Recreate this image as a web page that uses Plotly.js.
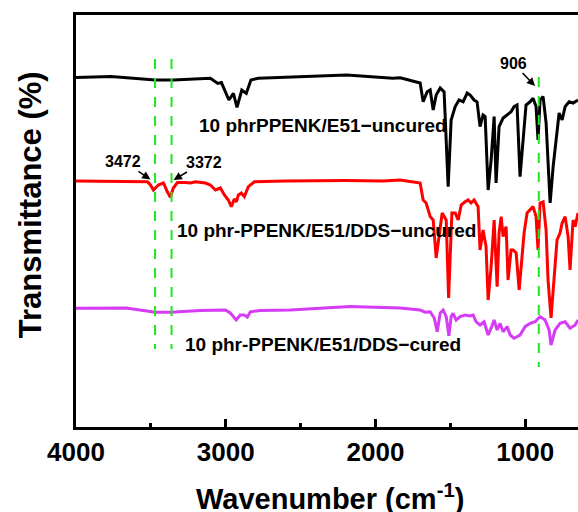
<!DOCTYPE html>
<html>
<head>
<meta charset="utf-8">
<script src="https://cdn.plot.ly/plotly-3.0.1.min.js"></script>
<style>html,body{margin:0;padding:0;background:#fff;overflow:hidden;}#chart{width:578px;height:512px;}</style>
</head>
<body>
<div id="chart"></div>
<script>
// Wavenumbers (cm-1) and transmittance (offset, arbitrary %)
const wnBlack = [4000,3766,3471,3350,3103,3053,3029,2979,2949,2925,2893,2863,2832,2783,2192,1885,1835,1735,1702,1682,1655,1635,1615,1595,1568,1542,1515,1495,1468,1442,1415,1388,1368,1342,1322,1302,1282,1268,1248,1228,1208,1195,1175,1148,1121,1095,1075,1055,1035,1015,995,968,948,928,915,901,881,861,834,814,794,774,754,734,707,681,648];
const tBlack  = [87.4,87.6,86.75,86.75,87.2,85.9,86.1,81.75,83.4,79.9,84.25,83.4,86.75,87.2,88,87.2,87.3,86.3,86,81.3,83.8,84.25,79.25,83,84.75,83.75,60.1,76.75,80.1,81.75,81.3,83.5,83,81.75,81.3,75.1,78,77.6,59.25,66.75,77.6,61,75.1,77.25,78,78.8,80.1,80.5,62.6,71.75,80.5,81.3,82.2,80.1,71.75,81.75,82.6,76,56,65.1,72.6,78.5,76.75,80.1,81.3,81,81.75];

const wnRed = [4000,3523,3503,3483,3450,3416,3390,3370,3350,3323,3270,3236,3203,3136,3103,3069,3036,3009,2983,2963,2943,2929,2916,2896,2876,2849,2809,2600,2200,1950,1835,1702,1682,1662,1635,1615,1595,1575,1555,1528,1512,1490,1468,1448,1428,1402,1382,1362,1342,1315,1302,1282,1262,1248,1228,1208,1188,1175,1161,1148,1128,1115,1095,1081,1061,1041,1021,1008,988,968,948,928,915,901,881,861,848,828,808,788,768,754,734,714,701,681,667,648];
const tRed  = [61.5,61.3,60.5,59.25,60.5,61,58.8,57.4,59.75,61.1,61.1,61,61.3,61,60.5,59.25,59.75,58,56.75,55.1,57,56.3,58,58.5,57.6,60.1,61.3,61.5,61.6,61.5,61.75,61,56.75,56,52.6,51.75,42.25,47.6,53.5,51.75,32.25,53.5,53.5,51.75,55.5,56.3,56.75,56,56.75,55.1,44.25,49.25,45.1,31.75,40.1,51.75,35.1,48.5,52.6,47.6,50.1,36.75,44.25,44.25,43.5,34.25,41.75,48.5,53.5,54.25,55.1,52.6,44.25,56,56.3,49.25,36.75,27.25,37.6,46.75,48.5,51,52.6,47.6,39.25,51.75,50.1,53.5];

const wnPurple = [4000,3665,3471,3365,3170,3003,2970,2930,2903,2876,2856,2836,2770,2570,2170,1835,1702,1668,1635,1608,1588,1568,1548,1528,1510,1495,1482,1462,1435,1402,1368,1348,1328,1302,1275,1248,1228,1208,1188,1168,1148,1121,1101,1075,1035,1001,968,935,901,868,841,828,801,768,734,701,667,648];
const tPurple  = [29.7,29.75,28.7,28.7,29.1,29.25,28.5,26.75,28,28,27.5,28.8,29.1,29.25,30.1,29.75,29.25,28.7,28.8,27.25,23.8,28.5,29.25,27.6,22.8,27.6,28.4,26.75,27.6,28,27.75,28,26.3,25.5,26.3,23,24.7,26.75,24.25,25.9,23.8,25.1,23,22.2,23,25.1,25.9,26.3,27.6,26.75,24.25,20.5,24.25,25.9,26.3,24.7,25.5,26.75];

const seriesNames = ["10 phrPPENK/E51\u2212uncured","10 phr-PPENK/E51/DDS\u2212uncured","10 phr-PPENK/E51/DDS\u2212cured"];
const seriesColors = ["#000000","#ff0000","#d63cf5"];

// Marked bands (cm-1)
const bandWn = [3472, 3362, 910];
const bandLabels = ["3472","3372","906"];
const bandTop = [92, 92, 87.5];
const bandBottom = [19.5, 19.5, 15];

const xTicks = [4000,3000,2000,1000];

const FONT = "Arial, 'Liberation Sans', sans-serif";

const traces = [
  {x: wnPurple, y: tPurple, mode:'lines', line:{color:seriesColors[2], width:3}, name:seriesNames[2], hoverinfo:'skip'},
  {x: wnRed, y: tRed, mode:'lines', line:{color:seriesColors[1], width:3}, name:seriesNames[1], hoverinfo:'skip'},
  {x: wnBlack, y: tBlack, mode:'lines', line:{color:seriesColors[0], width:3}, name:seriesNames[0], hoverinfo:'skip'}
];

const shapes = bandWn.map((w,i)=>({type:'line', xref:'x', yref:'y', x0:w, x1:w, y0:bandTop[i], y1:bandBottom[i],
  line:{color:'#1fe81f', width:2, dash:'10px,9px'}}));

const bold = (s)=>({family:FONT, size:s, color:'#000', weight:'bold'});

const annotations = [
  {x:3189, y:75.5, xref:'x', yref:'y', text:seriesNames[0], showarrow:false, xanchor:'left', yanchor:'middle', font:bold(19)},
  {x:3336, y:49.25, xref:'x', yref:'y', text:seriesNames[1], showarrow:false, xanchor:'left', yanchor:'middle', font:bold(19)},
  {x:3283, y:20.75, xref:'x', yref:'y', text:seriesNames[2], showarrow:false, xanchor:'left', yanchor:'middle', font:bold(19)},
  {x:3503, y:61.9, xref:'x', yref:'y', text:bandLabels[0], showarrow:true, ax:-27, ay:-18, arrowhead:2, arrowsize:1.1, arrowwidth:1.5, arrowcolor:'#000', standoff:0, font:bold(16)},
  {x:3348, y:61.75, xref:'x', yref:'y', text:bandLabels[1], showarrow:true, ax:30, ay:-18, arrowhead:2, arrowsize:1.1, arrowwidth:1.5, arrowcolor:'#000', standoff:0, font:bold(16)},
  {x:935, y:85.25, xref:'x', yref:'y', text:bandLabels[2], showarrow:true, ax:-22, ay:-23, arrowhead:2, arrowsize:1.1, arrowwidth:1.5, arrowcolor:'#000', standoff:0, font:bold(16)},
  {x:0.5, y:-0.17, xref:'paper', yref:'paper', text:'Wavenumber (cm<sup>-1</sup>)', showarrow:false, xanchor:'center', yanchor:'middle', font:bold(29), xshift:3},
  {x:-0.09, y:0.54, xref:'paper', yref:'paper', text:'Transmittance (%)', showarrow:false, textangle:-90, xanchor:'center', yanchor:'middle', font:bold(31)}
];

const layout = {
  width:578, height:512,
  margin:{l:76, r:0, t:15, b:85, pad:0},
  paper_bgcolor:'#fff', plot_bgcolor:'#fff',
  showlegend:false,
  xaxis:{range:[4000,648], showline:true, linecolor:'#000', linewidth:3, mirror:true,
    tickmode:'array', tickvals:xTicks, ticktext:xTicks.map(String),
    ticks:'inside', ticklen:8, tickwidth:3, tickcolor:'#000',
    minor:{dtick:500, tick0:0, ticks:'inside', ticklen:4, tickwidth:3, tickcolor:'#000'},
    tickfont:bold(26), showgrid:false, zeroline:false},
  yaxis:{range:[0,103], showline:true, linecolor:'#000', linewidth:3, mirror:false,
    showticklabels:false, ticks:'', showgrid:false, zeroline:false},
  shapes:shapes,
  annotations:annotations
};

Plotly.newPlot('chart', traces, layout, {staticPlot:true, displayModeBar:false});
</script>
</body>
</html>
